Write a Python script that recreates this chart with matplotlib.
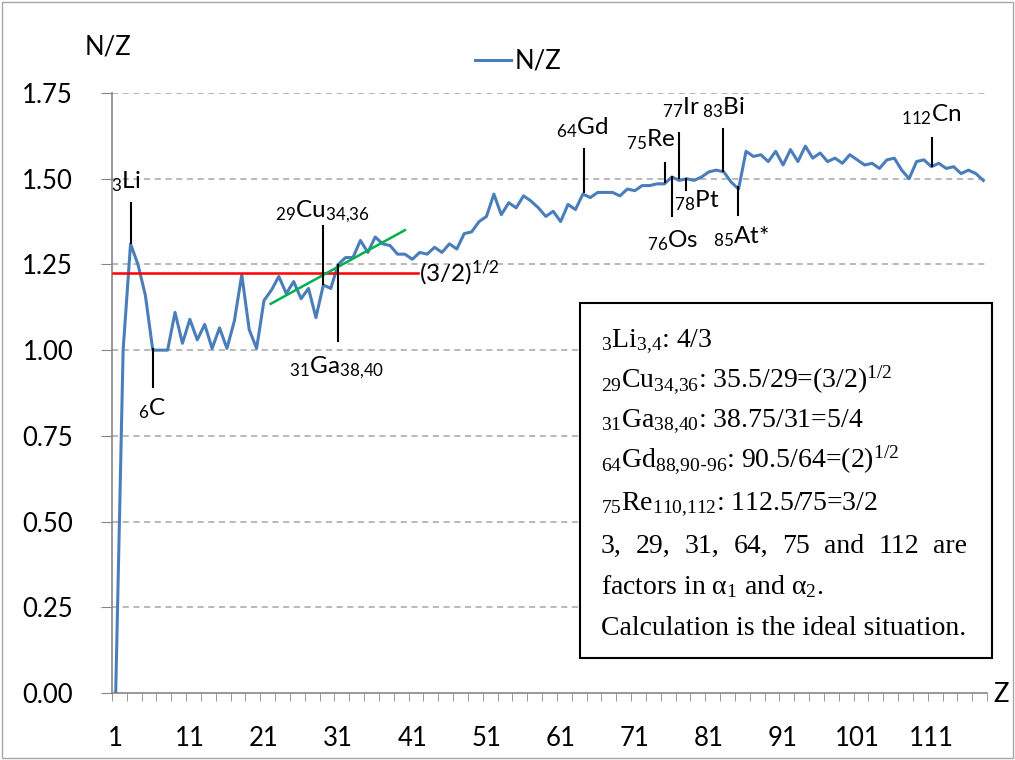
import numpy as np
import matplotlib.pyplot as plt
from matplotlib.patches import Rectangle
from matplotlib.lines import Line2D

plt.rcParams['font.family'] = ['Lato', 'DejaVu Sans']
plt.rcParams['mathtext.fontset'] = 'custom'
plt.rcParams['mathtext.rm'] = 'Lato'
plt.rcParams['mathtext.default'] = 'regular'

# N/Z for Z = 1..118
z = np.arange(1, 119)
nz = [0.0, 1.0, 1.31, 1.25, 1.16, 1.0, 1.0, 1.0, 1.11, 1.02,
      1.09, 1.03, 1.075, 1.005, 1.065, 1.005, 1.085, 1.22, 1.06, 1.005,
      1.145, 1.175, 1.215, 1.165, 1.2, 1.15, 1.18, 1.095, 1.19, 1.18,
      1.25, 1.27, 1.27, 1.32, 1.285, 1.33, 1.31, 1.305, 1.28, 1.28,
      1.265, 1.285, 1.28, 1.3, 1.285, 1.31, 1.295, 1.34, 1.345, 1.375,
      1.39, 1.455, 1.395, 1.43, 1.415, 1.45, 1.435, 1.415, 1.39, 1.405,
      1.375, 1.425, 1.41, 1.455, 1.445, 1.46, 1.46, 1.46, 1.45, 1.47,
      1.465, 1.48, 1.48, 1.485, 1.485, 1.505, 1.495, 1.5, 1.495, 1.505,
      1.52, 1.525, 1.52, 1.49, 1.47, 1.58, 1.565, 1.57, 1.55, 1.58,
      1.54, 1.585, 1.55, 1.595, 1.56, 1.575, 1.55, 1.56, 1.545, 1.57,
      1.555, 1.54, 1.545, 1.53, 1.555, 1.56, 1.525, 1.5, 1.55, 1.555,
      1.535, 1.545, 1.53, 1.535, 1.515, 1.525, 1.515, 1.495]

yticks = [0.0, 0.25, 0.5, 0.75, 1.0, 1.25, 1.5, 1.75]
xtick_labels = [1, 11, 21, 31, 41, 51, 61, 71, 81, 91, 101, 111]

sqrt_3_2 = 1.2247
trend_z = [21.9, 40.0]
trend_v = [1.135, 1.35]

# element markers: (Z, y from, y to, label, label Z, label y)
markers = [
    (3.0, 1.43, 1.312, r'${}_{3}$Li', 2.3, 1.49),
    (6.0, 1.003, 0.893, r'${}_{6}$C', 5.9, 0.83),
    (28.9, 1.362, 1.193, r'${}_{29}$Cu$_{34{,}36}$', 28.9, 1.405),
    (31.0, 1.248, 1.027, r'${}_{31}$Ga$_{38{,}40}$', 30.8, 0.95),
    (64.1, 1.588, 1.462, r'${}_{64}$Gd', 63.9, 1.65),
    (75.1, 1.546, 1.491, r'${}_{75}$Re', 73.2, 1.615),
    (77.0, 1.632, 1.503, r'${}_{77}$Ir', 77.3, 1.707),
    (76.0, 1.505, 1.391, r'${}_{76}$Os', 76.1, 1.32),
    (77.9, 1.50, 1.467, r'${}_{78}$Pt', 79.3, 1.435),
    (82.9, 1.646, 1.523, r'${}_{83}$Bi', 82.9, 1.707),
    (84.9, 1.477, 1.394, r'${}_{85}$At*', 85.3, 1.33),
    (111.1, 1.62, 1.537, r'${}_{112}$Cn', 111.0, 1.687),
]

W, H = 1015, 760
fig = plt.figure(figsize=(W / 100, H / 100), dpi=100)
ax = fig.add_axes([112 / W, 1 - 693 / H, (987 - 112) / W, 600 / H])

ax.plot(z, nz, color='#4A7EBB', lw=2.2, label='N/Z', zorder=3)
ax.plot([0.6, 41.7], [sqrt_3_2, sqrt_3_2], color='red', lw=1.8, zorder=4)
ax.plot(trend_z, trend_v, color='#00B050', lw=1.8, zorder=4)
ax.text(41.9, sqrt_3_2, r'(3/2)$^{1/2}$', fontsize=17.5, va='center', ha='left')

for mz, y0, y1, lab, lx, ly in markers:
    ax.plot([mz, mz], [y0, y1], color='black', lw=1.5, zorder=5)
    ax.text(lx, ly, lab, fontsize=17.5, ha='center', va='center')

ax.set_xlim(0.5, 118.5)
ax.set_ylim(0, 1.75)
ax.set_yticks(yticks)
ax.set_yticklabels(['%.2f' % v for v in yticks])
ax.set_xticks(xtick_labels)
ax.set_xticklabels([str(v) for v in xtick_labels])
ax.set_xticks(np.arange(0.5, 119, 2), minor=True)
ax.tick_params(axis='y', length=8, color='#868686', labelsize=18.5, pad=20)
ax.tick_params(axis='x', which='major', length=0, labelsize=18.5, pad=24)
ax.tick_params(axis='x', which='minor', length=6, color='#868686')
for s in ['top', 'right']:
    ax.spines[s].set_visible(False)
for s in ['left', 'bottom']:
    ax.spines[s].set_color('#868686')
    ax.spines[s].set_linewidth(1.2)
for v in yticks[1:]:
    ax.axhline(v, color='#A6A6A6', lw=1.1, ls=(0, (4, 3)), zorder=1)

fig.text(108 / W, 1 - 47 / H, 'N/Z', fontsize=18.5, ha='center', va='center')
fig.text(1001 / W, 1 - 695 / H, 'Z', fontsize=18.5, ha='center', va='center')
fig.legend(handles=[Line2D([], [], color='#4A7EBB', lw=2.2)], labels=['N/Z'],
           loc='center', bbox_to_anchor=(518 / W, 1 - 61 / H), frameon=False,
           fontsize=18.5, handlelength=1.4, handletextpad=0.15)

# chart border
fig.patches.append(Rectangle((2 / W, 2 / H), 1 - 4 / W, 1 - 4 / H, transform=fig.transFigure,
                             fill=False, edgecolor='#A6A6A6', lw=1))

# text box
fig.patches.append(Rectangle((580 / W, 1 - 658 / H), 412 / W, 355 / H, transform=fig.transFigure,
                             facecolor='white', edgecolor='black', lw=1.5, zorder=10))
box_lines = [
    r'${}_{3}$Li$_{3{,}4}$: 4/3',
    r'${}_{29}$Cu$_{34{,}36}$: 35.5/29=(3/2)$^{1/2}$',
    r'${}_{31}$Ga$_{38{,}40}$: 38.75/31=5/4',
    r'${}_{64}$Gd$_{88{,}90\text{-}96}$: 90.5/64=(2)$^{1/2}$',
    r'${}_{75}$Re$_{110{,}112}$: 112.5/75=3/2',
]
baselines = [347, 387, 427, 467, 510]
serif = dict(family='Liberation Serif', fontsize=20, va='baseline', ha='left', zorder=11)
for t, b in zip(box_lines, baselines):
    fig.text(601 / W, 1 - b / H, t, **serif)

# justified line
words = ['3,', '29,', '31,', '64,', '75', 'and', '112', 'are']
left, right = 601, 967
renderer = fig.canvas.get_renderer()
objs = [fig.text(0, 1 - 553 / H, w, **serif) for w in words]
widths = [o.get_window_extent(renderer).width for o in objs]
gap = (right - left - sum(widths)) / (len(words) - 1)
xpos = left
for o, wd in zip(objs, widths):
    o.set_x(xpos / W)
    xpos += wd + gap

fig.text(601 / W, 1 - 594 / H, r'factors in α$_{1}$ and α$_{2}$.', **serif)
fig.text(601 / W, 1 - 635 / H, 'Calculation is the ideal situation.', **serif)

fig.savefig('out.png', dpi=100)
